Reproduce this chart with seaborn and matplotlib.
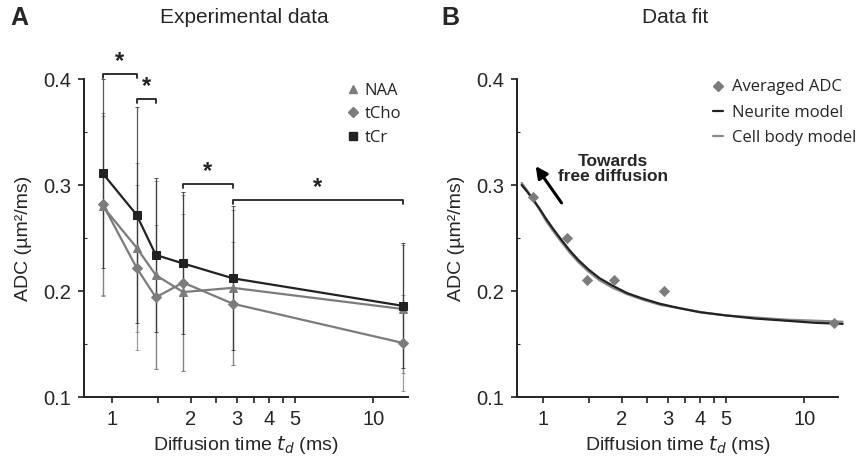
import matplotlib
matplotlib.use("Agg")
import matplotlib.pyplot as plt
from matplotlib.lines import Line2D
import numpy as np
import pandas as pd
import seaborn as sns

# ---------------------------------------------------------------------------
# Data
# ---------------------------------------------------------------------------
td = [0.92, 1.24, 1.47, 1.87, 2.9, 13.0]

naa = [0.280, 0.241, 0.215, 0.199, 0.203, 0.183]
tcho = [0.282, 0.222, 0.194, 0.208, 0.188, 0.151]
tcr = [0.311, 0.272, 0.234, 0.226, 0.212, 0.186]

naa_err = [0.085, 0.080, 0.089, 0.074, 0.073, 0.060]
tcho_err = [0.086, 0.078, 0.068, 0.083, 0.058, 0.045]
tcr_err = [0.089, 0.102, 0.073, 0.067, 0.068, 0.059]

# significance brackets: (index left, index right, height)
sig_pairs = [(0, 1, 0.405), (1, 2, 0.381), (3, 4, 0.301), (4, 5, 0.286)]

avg_adc = [0.289, 0.250, 0.210, 0.210, 0.200, 0.170]

fit_t = [0.83, 0.87, 0.92, 0.97, 1.03, 1.1, 1.18, 1.27, 1.37, 1.5, 1.65, 1.85,
         2.1, 2.4, 2.8, 3.3, 4.0, 5.0, 6.5, 8.5, 11.0, 14.0]
neurite_fit = [0.300, 0.294, 0.286, 0.278, 0.268, 0.258, 0.248, 0.238, 0.229,
               0.220, 0.212, 0.205, 0.198, 0.193, 0.188, 0.184, 0.180, 0.177,
               0.174, 0.172, 0.170, 0.169]
cellbody_fit = [0.302, 0.295, 0.286, 0.277, 0.266, 0.256, 0.246, 0.236, 0.227,
                0.218, 0.210, 0.203, 0.197, 0.192, 0.187, 0.184, 0.180, 0.177,
                0.175, 0.173, 0.172, 0.171]

x_ticks = [1, 1.5, 2, 2.5, 3, 3.5, 4, 4.5, 5, 10]
x_ticklabels = ["1", "", "2", "", "3", "", "4", "", "5", "10"]
y_ticks = [0.1, 0.2, 0.3, 0.4]

DARK = "#222222"
GREY = "#7c7c7c"

sns.set_style("ticks")
plt.rcParams["font.family"] = ["Liberation Sans", "DejaVu Sans"]

fig = plt.figure(figsize=(8.63, 4.61), dpi=100)
ax_a = fig.add_axes([0.0973, 0.1388, 0.3755, 0.6898])
ax_b = fig.add_axes([0.5991, 0.1388, 0.3720, 0.6898])


def style_axis(ax, xlim):
    ax.set_xscale("log")
    ax.set_xlim(*xlim)
    ax.set_ylim(0.1, 0.4)
    ax.set_xticks(x_ticks)
    ax.set_xticklabels(x_ticklabels)
    ax.xaxis.set_minor_locator(matplotlib.ticker.NullLocator())
    ax.set_yticks(y_ticks)
    ax.set_yticklabels(["0.1", "0.2", "0.3", "0.4"])
    ax.set_yticks([0.15, 0.25, 0.35], minor=True)
    ax.tick_params(axis="both", labelsize=14.5, width=1.2, length=4,
                   color="#222222", pad=5)
    ax.tick_params(axis="y", which="minor", direction="in", length=2, width=0.8)
    sns.despine(ax=ax)
    for s in ("left", "bottom"):
        ax.spines[s].set_linewidth(1.4)
        ax.spines[s].set_color("#222222")
    ax.set_xlabel("Diffusion time $t_d$ (ms)", fontsize=14, labelpad=4)
    ax.set_ylabel("ADC (µm²/ms)", fontsize=14, labelpad=8)


# ---------------------------------------------------------------------------
# Panel A
# ---------------------------------------------------------------------------
series = [
    ("NAA", naa, naa_err, "^", GREY),
    ("tCho", tcho, tcho_err, "D", GREY),
    ("tCr", tcr, tcr_err, "s", DARK),
]
for name, vals, errs, mk, col in series:
    ax_a.errorbar(td, vals, yerr=errs, fmt="none", ecolor=col, elinewidth=0.9,
                  capsize=1.2, capthick=0.7, alpha=0.75, zorder=1)
for name, vals, errs, mk, col in series:
    df = pd.DataFrame({"td": td, "adc": vals})
    sns.lineplot(data=df, x="td", y="adc", ax=ax_a, color=col, linewidth=1.6,
                 marker=mk, markersize=6 if mk != "D" else 5,
                 markerfacecolor=col, markeredgecolor=col, sort=False, zorder=3)

for i, j, h in sig_pairs:
    xl, xr = td[i], td[j]
    ax_a.plot([xl, xl, xr, xr], [h - 0.004, h, h, h - 0.004], color=DARK,
              linewidth=1.3, clip_on=False, zorder=4)
    xm = np.sqrt(xl * xr)
    ax_a.text(xm, h + 0.001, "*", ha="center", va="bottom", fontsize=17,
              fontweight="bold", color=DARK, clip_on=False)

handles_a = [
    Line2D([], [], linestyle="none", marker="^", color=GREY, markersize=6),
    Line2D([], [], linestyle="none", marker="D", color=GREY, markersize=5),
    Line2D([], [], linestyle="none", marker="s", color=DARK, markersize=6),
]
ax_a.legend(handles_a, ["NAA", "tCho", "tCr"], loc="upper right",
            bbox_to_anchor=(1.01, 1.02), frameon=False, handlelength=0.6,
            handletextpad=0.4, labelspacing=0.45, borderaxespad=0.2,
            prop={"family": "Open Sans", "size": 12})
style_axis(ax_a, (0.78, 13.6))

# ---------------------------------------------------------------------------
# Panel B
# ---------------------------------------------------------------------------
sns.lineplot(x=fit_t, y=cellbody_fit, ax=ax_b, color="#8a8a8a", linewidth=1.6,
             sort=False, zorder=2)
sns.lineplot(x=fit_t, y=neurite_fit, ax=ax_b, color=DARK, linewidth=1.6,
             sort=False, zorder=3)
for line in ax_b.get_lines():
    line.set_clip_on(False)
sns.scatterplot(x=td, y=avg_adc, ax=ax_b, marker="D", s=28, color=GREY,
                edgecolor=GREY, zorder=4)

ax_b.annotate("", xy=(0.926, 0.320), xytext=(1.196, 0.281),
              arrowprops=dict(arrowstyle="-|>,head_length=0.7,head_width=0.35",
                              color="black", lw=2.2))
ax_b.text(1.86, 0.315, "Towards\nfree diffusion", ha="center", va="center",
          fontsize=12.5, fontweight="bold", linespacing=1.0)

handles_b = [
    Line2D([], [], linestyle="none", marker="D", color=GREY, markersize=5),
    Line2D([], [], color=DARK, linewidth=1.6),
    Line2D([], [], color="#8a8a8a", linewidth=1.6),
]
ax_b.legend(handles_b, ["Averaged ADC", "Neurite model", "Cell body model"],
            loc="upper left", bbox_to_anchor=(0.58, 1.03), frameon=False,
            handlelength=0.6, handletextpad=0.5, labelspacing=0.55,
            borderaxespad=0.2, prop={"family": "Open Sans", "size": 12})
style_axis(ax_b, (0.797, 13.45))

# ---------------------------------------------------------------------------
# Panel labels and titles
# ---------------------------------------------------------------------------
fig.text(0.012, 0.962, "A", fontsize=18, fontweight="bold", va="center")
fig.text(0.512, 0.962, "B", fontsize=18, fontweight="bold", va="center")
fig.text(0.283, 0.962, "Experimental data", fontsize=15, ha="center", va="center")
fig.text(0.782, 0.962, "Data fit", fontsize=15, ha="center", va="center")

fig.savefig("out.png", dpi=100)
